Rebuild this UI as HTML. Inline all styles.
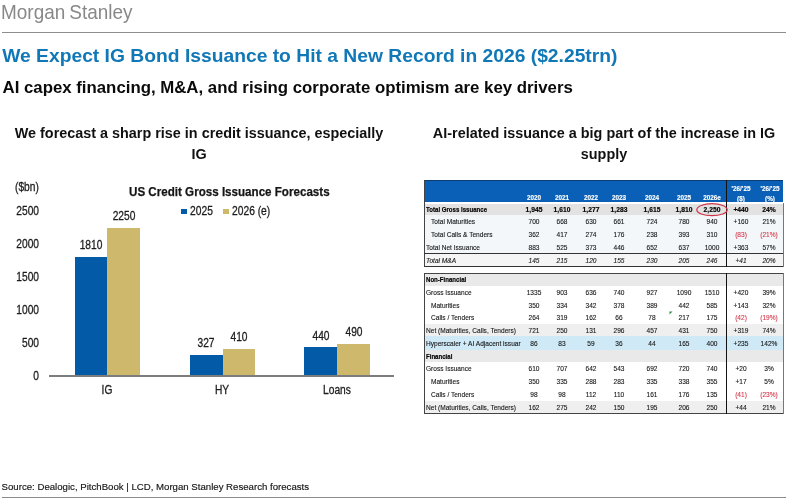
<!DOCTYPE html>
<html lang="en"><head><meta charset="utf-8"><title>Morgan Stanley - IG Bond Issuance</title>
<style>
html,body{margin:0;padding:0;background:#fff;}
body{filter:blur(.4px);width:786px;height:500px;position:relative;overflow:hidden;font-family:"Liberation Sans",Arial,sans-serif;color:#111;}
.abs{position:absolute;white-space:nowrap;}
#logo{left:0.9px;top:0.5px;font-size:20.7px;line-height:22px;color:#888;transform:scaleX(.916);transform-origin:0 0;word-spacing:-1.3px}
#rule1{left:2px;top:31.5px;width:784px;height:1.2px;background:#8e8e8e}
#rule2{left:2px;top:497.2px;width:784px;height:1.3px;background:#8a8a8a}
#title{left:2.2px;top:44.3px;font-size:19.28px;line-height:24px;font-weight:bold;color:#1178b7}
#sub{left:2.5px;top:77.4px;font-size:16.81px;line-height:22px;font-weight:bold;color:#0a0a0a}
.head{font-size:14.4px;line-height:21px;font-weight:bold;color:#111;text-align:center;white-space:nowrap}
#h1{left:0;top:122.5px;width:398px}
#h2{left:404px;top:122.5px;width:400px}
#src{left:1.6px;top:480.7px;font-size:9.645px;line-height:12px;color:#151515;-webkit-text-stroke:.15px #151515}
/* chart */
.n{position:absolute;font-size:12.3px;line-height:14px;color:#1c1c1c;-webkit-text-stroke:.3px #1c1c1c;white-space:nowrap;transform:scaleX(.83);}
.yl{left:-11px;width:50px;text-align:right;transform-origin:100% 50%}
.dl{width:50px;text-align:center}
.cat{top:383.3px;width:60px;text-align:center}
.bar{position:absolute}
.bar.b{background:#035aa7}
.bar.g{background:#cdb86c}
#axis{left:49.4px;top:375.4px;width:345px;height:1.2px;background:#7d7d7d}
#ctitle{left:128.6px;top:183.8px;font-size:12.8px;line-height:15px;font-weight:bold;color:#151515;-webkit-text-stroke:.25px #151515;transform:scaleX(.907);transform-origin:0 50%}
#bn{left:14.6px;top:179.6px;transform-origin:0 50%}
.lg{position:absolute;width:5.8px;height:5.8px;top:208.6px}
.lt{top:204.1px;transform:scaleX(.835);transform-origin:0 50%}
/* table */
.hd{position:absolute;background:#0a60b6;border-top:1px solid #0d3d70;box-sizing:border-box}
.h{position:absolute;width:40px;text-align:center;font-size:7.4px;line-height:9px;font-weight:bold;color:#fff;-webkit-text-stroke:.15px #fff;white-space:nowrap;transform:scaleX(.86)}
.r{position:absolute;left:424.3px;width:359.2px;font-size:8px;color:#141414;-webkit-text-stroke:.12px #141414;white-space:nowrap}
.r span{position:absolute;top:var(--t);height:10px}
.r .l{transform:scaleX(0.82);transform-origin:0 50%}
.r .c{width:40px;text-align:center;transform:scaleX(0.82)}
.r.b{font-weight:bold;color:#000;-webkit-text-stroke:.2px #000}
.r.b .l{transform:scaleX(.76)}
.r.b .c{transform:scaleX(.84)}
.r.i{font-style:italic}
.neg{color:#d2394a;-webkit-text-stroke-color:#d2394a}
.ln{position:absolute;background:#222}
</style></head><body>
<div id="logo" class="abs">Morgan Stanley</div>
<div id="rule1" class="abs"></div>
<div id="title" class="abs">We Expect IG Bond Issuance to Hit a New Record in 2026 ($2.25trn)</div>
<div id="sub" class="abs">AI capex financing, M&amp;A, and rising corporate optimism are key drivers</div>
<div id="h1" class="abs head">We forecast a sharp rise in credit issuance, especially<br>IG</div>
<div id="h2" class="abs head">AI-related issuance a big part of the increase in IG<br>supply</div>

<!-- bar chart -->
<span id="bn" class="n">($bn)</span>
<div id="ctitle" class="abs">US Credit Gross Issuance Forecasts</div>
<div class="lg" style="left:181px;background:#035aa7"></div><span class="n lt" style="left:190px">2025</span>
<div class="lg" style="left:223.4px;background:#cdb86c"></div><span class="n lt" style="left:232px">2026 (e)</span>
<span class="n yl" style="top:368.9px">0</span><span class="n yl" style="top:335.9px">500</span><span class="n yl" style="top:302.9px">1000</span><span class="n yl" style="top:269.9px">1500</span><span class="n yl" style="top:236.9px">2000</span><span class="n yl" style="top:203.9px">2500</span>
<div class="bar b" style="left:74.9px;top:256.7px;width:32.5px;height:119.5px"></div><span class="n dl" style="left:66.2px;top:238.0px">1810</span><div class="bar g" style="left:107.4px;top:227.7px;width:33.0px;height:148.5px"></div><span class="n dl" style="left:98.9px;top:209.0px">2250</span><div class="bar b" style="left:189.8px;top:354.6px;width:32.9px;height:21.6px"></div><span class="n dl" style="left:181.2px;top:335.9px">327</span><div class="bar g" style="left:222.7px;top:349.1px;width:32.8px;height:27.1px"></div><span class="n dl" style="left:214.1px;top:330.4px">410</span><div class="bar b" style="left:304.4px;top:347.2px;width:33.0px;height:29.0px"></div><span class="n dl" style="left:295.9px;top:328.5px">440</span><div class="bar g" style="left:337.4px;top:343.9px;width:32.8px;height:32.3px"></div><span class="n dl" style="left:328.8px;top:325.2px">490</span>
<div id="axis" class="abs"></div>
<span class="n cat" style="left:77.4px">IG</span><span class="n cat" style="left:192.4px">HY</span><span class="n cat" style="left:307.2px">Loans</span>

<!-- table -->
<div class="hd" style="left:424.3px;top:180px;width:359.2px;height:22.4px"></div>
<span class="h" style="left:514.0px;top:193.1px">2020</span><span class="h" style="left:542.3px;top:193.1px">2021</span><span class="h" style="left:570.8px;top:193.1px">2022</span><span class="h" style="left:599.2px;top:193.1px">2023</span><span class="h" style="left:631.6px;top:193.1px">2024</span><span class="h" style="left:664.0px;top:193.1px">2025</span><span class="h" style="left:692.3px;top:193.1px">2026e</span><span class="h" style="left:721.0px;top:183.5px">'26/'25</span><span class="h" style="left:721.0px;top:193.5px">($)</span><span class="h" style="left:749.5px;top:183.5px">'26/'25</span><span class="h" style="left:749.5px;top:193.5px">(%)</span>
<div class="r b" style="top:203.80px;height:11.00px;line-height:10px;--t:1.30px;background:#e2e2e2;"><span class="l " style="left:2.0px">Total Gross Issuance</span><span class="c " style="left:89.7px">1,945</span><span class="c " style="left:118.0px">1,610</span><span class="c " style="left:146.5px">1,277</span><span class="c " style="left:174.9px">1,283</span><span class="c " style="left:207.3px">1,615</span><span class="c " style="left:239.7px">1,810</span><span class="c " style="left:268.0px">2,250</span><span class="c " style="left:296.7px">+440</span><span class="c " style="left:325.2px">24%</span></div><div class="r " style="top:214.80px;height:12.80px;line-height:10px;--t:2.70px;background:#f3f7fa;"><span class="l " style="left:6.5px">Total Maturities</span><span class="c " style="left:89.7px">700</span><span class="c " style="left:118.0px">668</span><span class="c " style="left:146.5px">630</span><span class="c " style="left:174.9px">661</span><span class="c " style="left:207.3px">724</span><span class="c " style="left:239.7px">780</span><span class="c " style="left:268.0px">940</span><span class="c " style="left:296.7px">+160</span><span class="c " style="left:325.2px">21%</span></div><div class="r " style="top:227.60px;height:12.80px;line-height:10px;--t:2.40px;background:#f3f7fa;"><span class="l " style="left:6.5px">Total Calls &amp; Tenders</span><span class="c " style="left:89.7px">362</span><span class="c " style="left:118.0px">417</span><span class="c " style="left:146.5px">274</span><span class="c " style="left:174.9px">176</span><span class="c " style="left:207.3px">238</span><span class="c " style="left:239.7px">393</span><span class="c " style="left:268.0px">310</span><span class="c neg" style="left:296.7px">(83)</span><span class="c neg" style="left:325.2px">(21%)</span></div><div class="r " style="top:240.40px;height:12.80px;line-height:10px;--t:2.20px;background:#f3f7fa;"><span class="l " style="left:2.0px">Total Net Issuance</span><span class="c " style="left:89.7px">883</span><span class="c " style="left:118.0px">525</span><span class="c " style="left:146.5px">373</span><span class="c " style="left:174.9px">446</span><span class="c " style="left:207.3px">652</span><span class="c " style="left:239.7px">637</span><span class="c " style="left:268.0px">1000</span><span class="c " style="left:296.7px">+363</span><span class="c " style="left:325.2px">57%</span></div><div class="r i" style="top:253.20px;height:13.00px;line-height:10px;--t:2.50px;background:#f5f5f5;"><span class="l " style="left:2.0px">Total M&amp;A</span><span class="c " style="left:89.7px">145</span><span class="c " style="left:118.0px">215</span><span class="c " style="left:146.5px">120</span><span class="c " style="left:174.9px">155</span><span class="c " style="left:207.3px">230</span><span class="c " style="left:239.7px">205</span><span class="c " style="left:268.0px">246</span><span class="c " style="left:296.7px">+41</span><span class="c " style="left:325.2px">20%</span></div><div class="r b" style="top:273.70px;height:12.30px;line-height:10px;--t:1.80px;background:#e9e9e9;"><span class="l " style="left:2.0px">Non-Financial</span></div><div class="r " style="top:286.00px;height:12.70px;line-height:10px;--t:2.20px;"><span class="l " style="left:2.0px">Gross Issuance</span><span class="c " style="left:89.7px">1335</span><span class="c " style="left:118.0px">903</span><span class="c " style="left:146.5px">636</span><span class="c " style="left:174.9px">740</span><span class="c " style="left:207.3px">927</span><span class="c " style="left:239.7px">1090</span><span class="c " style="left:268.0px">1510</span><span class="c " style="left:296.7px">+420</span><span class="c " style="left:325.2px">39%</span></div><div class="r " style="top:298.70px;height:12.80px;line-height:10px;--t:2.00px;"><span class="l " style="left:6.5px">Maturities</span><span class="c " style="left:89.7px">350</span><span class="c " style="left:118.0px">334</span><span class="c " style="left:146.5px">342</span><span class="c " style="left:174.9px">378</span><span class="c " style="left:207.3px">389</span><span class="c " style="left:239.7px">442</span><span class="c " style="left:268.0px">585</span><span class="c " style="left:296.7px">+143</span><span class="c " style="left:325.2px">32%</span></div><div class="r " style="top:311.50px;height:12.70px;line-height:10px;--t:1.90px;"><span class="l " style="left:6.5px">Calls / Tenders</span><span class="c " style="left:89.7px">264</span><span class="c " style="left:118.0px">319</span><span class="c " style="left:146.5px">162</span><span class="c " style="left:174.9px">66</span><span class="c " style="left:207.3px">78</span><span class="c " style="left:239.7px">217</span><span class="c " style="left:268.0px">175</span><span class="c neg" style="left:296.7px">(42)</span><span class="c neg" style="left:325.2px">(19%)</span></div><div class="r " style="top:324.20px;height:12.00px;line-height:10px;--t:2.20px;background:#efefef;"><span class="l " style="left:2.0px">Net (Maturities, Calls, Tenders)</span><span class="c " style="left:89.7px">721</span><span class="c " style="left:118.0px">250</span><span class="c " style="left:146.5px">131</span><span class="c " style="left:174.9px">296</span><span class="c " style="left:207.3px">457</span><span class="c " style="left:239.7px">431</span><span class="c " style="left:268.0px">750</span><span class="c " style="left:296.7px">+319</span><span class="c " style="left:325.2px">74%</span></div><div class="r " style="top:336.20px;height:13.50px;line-height:10px;--t:2.70px;background:#cfe9f7;"><span class="l " style="left:2.0px">Hyperscaler + AI Adjacent issuar</span><span class="c " style="left:89.7px">86</span><span class="c " style="left:118.0px">83</span><span class="c " style="left:146.5px">59</span><span class="c " style="left:174.9px">36</span><span class="c " style="left:207.3px">44</span><span class="c " style="left:239.7px">165</span><span class="c " style="left:268.0px">400</span><span class="c " style="left:296.7px">+235</span><span class="c " style="left:325.2px">142%</span></div><div class="r b" style="top:349.70px;height:12.00px;line-height:10px;--t:1.90px;background:#e9e9e9;"><span class="l " style="left:2.0px">Financial</span></div><div class="r " style="top:361.70px;height:12.90px;line-height:10px;--t:2.50px;"><span class="l " style="left:2.0px">Gross Issuance</span><span class="c " style="left:89.7px">610</span><span class="c " style="left:118.0px">707</span><span class="c " style="left:146.5px">642</span><span class="c " style="left:174.9px">543</span><span class="c " style="left:207.3px">692</span><span class="c " style="left:239.7px">720</span><span class="c " style="left:268.0px">740</span><span class="c " style="left:296.7px">+20</span><span class="c " style="left:325.2px">3%</span></div><div class="r " style="top:374.60px;height:12.90px;line-height:10px;--t:2.20px;"><span class="l " style="left:6.5px">Maturities</span><span class="c " style="left:89.7px">350</span><span class="c " style="left:118.0px">335</span><span class="c " style="left:146.5px">288</span><span class="c " style="left:174.9px">283</span><span class="c " style="left:207.3px">335</span><span class="c " style="left:239.7px">338</span><span class="c " style="left:268.0px">355</span><span class="c " style="left:296.7px">+17</span><span class="c " style="left:325.2px">5%</span></div><div class="r " style="top:387.50px;height:13.00px;line-height:10px;--t:2.10px;"><span class="l " style="left:6.5px">Calls / Tenders</span><span class="c " style="left:89.7px">98</span><span class="c " style="left:118.0px">98</span><span class="c " style="left:146.5px">112</span><span class="c " style="left:174.9px">110</span><span class="c " style="left:207.3px">161</span><span class="c " style="left:239.7px">176</span><span class="c " style="left:268.0px">135</span><span class="c neg" style="left:296.7px">(41)</span><span class="c neg" style="left:325.2px">(23%)</span></div><div class="r " style="top:400.50px;height:12.50px;line-height:10px;--t:2.20px;background:#efefef;"><span class="l " style="left:2.0px">Net (Maturities, Calls, Tenders)</span><span class="c " style="left:89.7px">162</span><span class="c " style="left:118.0px">275</span><span class="c " style="left:146.5px">242</span><span class="c " style="left:174.9px">150</span><span class="c " style="left:207.3px">195</span><span class="c " style="left:239.7px">206</span><span class="c " style="left:268.0px">250</span><span class="c " style="left:296.7px">+44</span><span class="c " style="left:325.2px">21%</span></div>
<!-- table borders -->
<div class="ln" style="left:424.1px;top:180px;width:1px;height:86.8px;background:#444"></div>
<div class="ln" style="left:782.5px;top:202.5px;width:1px;height:64.3px;background:#777"></div>
<div class="ln" style="left:424.3px;top:252.7px;width:359.2px;height:1px;background:#333"></div>
<div class="ln" style="left:424.3px;top:265.8px;width:359.2px;height:1px;background:#333"></div>
<div class="ln" style="left:725.9px;top:180px;width:1.3px;height:86.8px;background:#111"></div>
<div class="ln" style="left:424.1px;top:273.2px;width:1px;height:140.4px;background:#444"></div>
<div class="ln" style="left:782.5px;top:273.2px;width:1px;height:140.4px;background:#777"></div>
<div class="ln" style="left:424.3px;top:273.2px;width:359.2px;height:1px;background:#444"></div>
<div class="ln" style="left:424.3px;top:412.6px;width:359.2px;height:1px;background:#444"></div>
<div class="ln" style="left:725.9px;top:273.2px;width:1.3px;height:140.4px;background:#111"></div>
<!-- red ellipse highlight -->
<svg class="abs" style="left:694px;top:201px" width="36" height="18" viewBox="0 0 36 18"><ellipse cx="18" cy="8.7" rx="15.2" ry="6" fill="none" stroke="#cf3347" stroke-width="1.2"/></svg>
<svg class="abs" style="left:669px;top:310.5px" width="4" height="4" viewBox="0 0 4 4"><polygon points="0.5,0.5 3.5,0.5 0.5,3.5" fill="#2e8b3a"/></svg>

<div id="src" class="abs">Source: Dealogic, PitchBook | LCD, Morgan Stanley Research forecasts</div>
<div id="rule2" class="abs"></div>
</body></html>
